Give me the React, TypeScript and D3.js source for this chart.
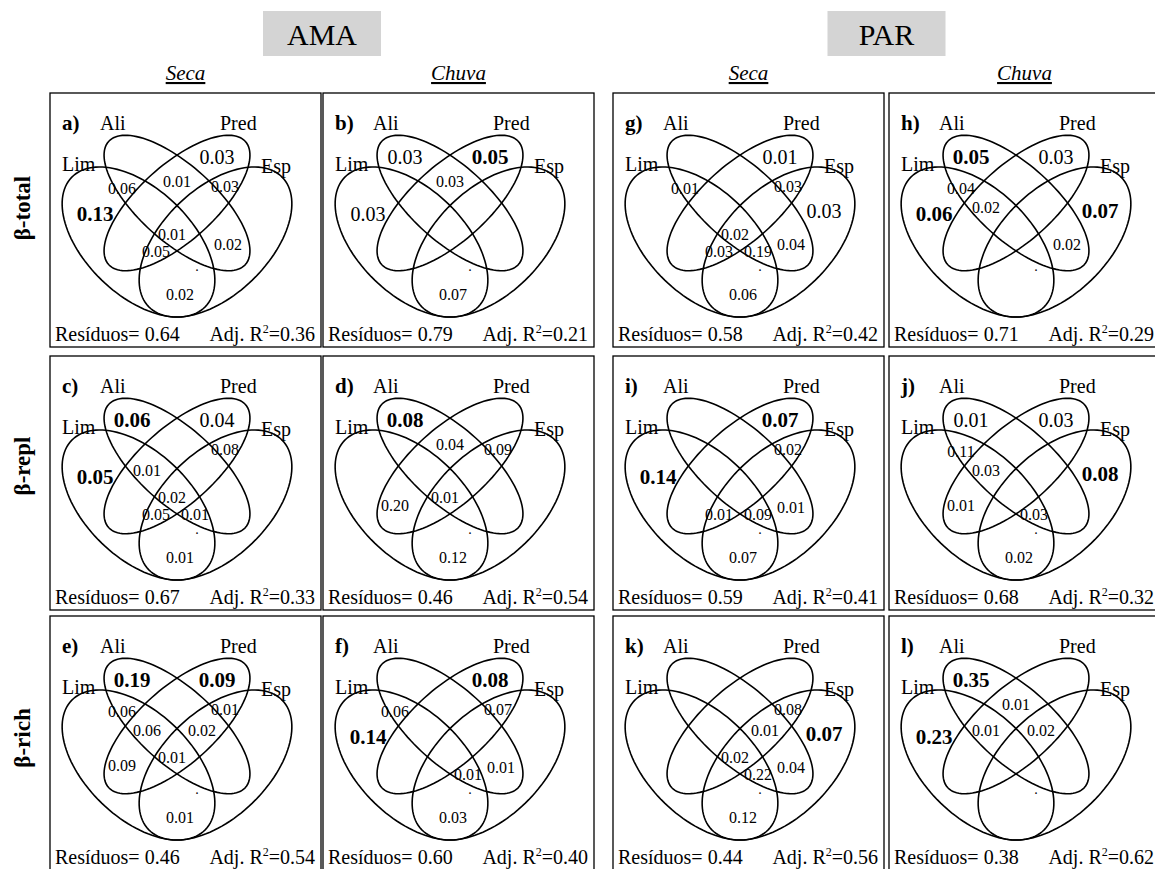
import React from 'react';
import * as d3 from 'd3';

const W = 1155;
const H = 869;
const FONT = "'Liberation Serif', 'Times New Roman', serif";

// ---------- data ----------
const siteLabels = ['AMA', 'PAR'];
const seasonLabels = ['Seca', 'Chuva'];
const rowLabels = ['β-total', 'β-repl', 'β-rich'];
const setLabels = ['Lim', 'Ali', 'Pred', 'Esp'];

// panels in reading order: row by row, columns AMA-Seca, AMA-Chuva, PAR-Seca, PAR-Chuva
const panelIds = ['a', 'b', 'g', 'h', 'c', 'd', 'i', 'j', 'e', 'f', 'k', 'l'];
const residuos = [0.64, 0.79, 0.58, 0.71, 0.67, 0.46, 0.59, 0.68, 0.46, 0.60, 0.44, 0.38];
const adjR2 = [0.36, 0.21, 0.42, 0.29, 0.33, 0.54, 0.41, 0.32, 0.54, 0.40, 0.56, 0.62];

// fractions: [region, value]; region letters L=Lim, A=Ali, P=Pred, E=Esp
type Frac = [string, number];
const fracA: Frac[] = [['L', 0.13], ['LA', 0.06], ['AP', 0.01], ['P', 0.03], ['PE', 0.03], ['LAPE', 0.01], ['LPE', 0.05], ['AE', 0.02], ['LE', 0.02]];
const fracB: Frac[] = [['A', 0.03], ['P', 0.05], ['AP', 0.03], ['L', 0.03], ['LE', 0.07]];
const fracG: Frac[] = [['P', 0.01], ['LA', 0.01], ['PE', 0.03], ['E', 0.03], ['LAPE', 0.02], ['AE', 0.04], ['LPE', 0.03], ['LAE', 0.19], ['LE', 0.06]];
const fracH: Frac[] = [['A', 0.05], ['P', 0.03], ['LA', 0.04], ['L', 0.06], ['LAP', 0.02], ['E', 0.07], ['AE', 0.02]];
const fracC: Frac[] = [['A', 0.06], ['P', 0.04], ['PE', 0.08], ['L', 0.05], ['LAP', 0.01], ['LAPE', 0.02], ['LPE', 0.05], ['LAE', 0.01], ['LE', 0.01]];
const fracD: Frac[] = [['A', 0.08], ['AP', 0.04], ['PE', 0.09], ['LP', 0.20], ['LAPE', 0.01], ['LE', 0.12]];
const fracI: Frac[] = [['P', 0.07], ['PE', 0.02], ['L', 0.14], ['AE', 0.01], ['LPE', 0.01], ['LAE', 0.09], ['LE', 0.07]];
const fracJ: Frac[] = [['A', 0.01], ['P', 0.03], ['LA', 0.11], ['LAP', 0.03], ['E', 0.08], ['LP', 0.01], ['LAE', 0.03], ['LE', 0.02]];
const fracE: Frac[] = [['A', 0.19], ['P', 0.09], ['LA', 0.06], ['PE', 0.01], ['LAP', 0.06], ['APE', 0.02], ['LP', 0.09], ['LAPE', 0.01], ['LE', 0.01]];
const fracF: Frac[] = [['P', 0.08], ['LA', 0.06], ['PE', 0.07], ['L', 0.14], ['LAE', 0.01], ['AE', 0.01], ['LE', 0.03]];
const fracK: Frac[] = [['PE', 0.08], ['APE', 0.01], ['E', 0.07], ['LAPE', 0.02], ['AE', 0.04], ['LAE', 0.22], ['LE', 0.12]];
const fracL: Frac[] = [['A', 0.35], ['AP', 0.01], ['L', 0.23], ['LAP', 0.01], ['APE', 0.02]];
const panelFractions = [fracA, fracB, fracG, fracH, fracC, fracD, fracI, fracJ, fracE, fracF, fracK, fracL];

// significant (bold) fractions per panel
const significant = [
  ['L'], ['P'], [], ['A', 'L', 'E'],
  ['A', 'L'], ['A'], ['P', 'L'], ['E'],
  ['A', 'P'], ['P', 'L'], ['E'], ['A', 'L'],
];

// ---------- layout ----------
const colLeft = [50, 323, 613, 889];
const rowTop = [93, 356, 616];
const rowLabelOffset = [115, 110, 122];
const PW = 271;
const PH = 254;

// Venn geometry in nominal panel units (0..PW, 0..PH)
const ellipseGeom = [
  { cx: 88.5, cy: 149, rx: 93, ry: 53, rot: 44 },   // Lim
  { cx: 127, cy: 110, rx: 92, ry: 38, rot: 42 },    // Ali
  { cx: 127, cy: 110, rx: 92, ry: 38, rot: -42 },   // Pred
  { cx: 165.5, cy: 149, rx: 93, ry: 53, rot: -44 }, // Esp
];
const regionAnchor: Record<string, [number, number]> = {
  L: [45, 121], A: [82, 64], P: [167, 64], E: [211, 118],
  LA: [72, 95], PE: [175, 93], AP: [127, 88],
  LAP: [97, 114], APE: [152, 114], LAPE: [122, 141],
  LP: [72, 149], AE: [178, 151], LPE: [106, 158], LAE: [145, 158], LE: [130, 201],
};
const setLabelPos: [number, number, string][] = [
  [12, 78, 'start'], [50, 37, 'start'], [170, 37, 'start'], [211, 80, 'start'],
];

function ellipsePoints(g: { cx: number; cy: number; rx: number; ry: number; rot: number }) {
  const a = (g.rot * Math.PI) / 180;
  return d3.range(0, 360, 3).map((deg) => {
    const t = (deg * Math.PI) / 180;
    const ex = g.rx * Math.cos(t);
    const ey = g.ry * Math.sin(t);
    return [g.cx + ex * Math.cos(a) - ey * Math.sin(a), g.cy + ex * Math.sin(a) + ey * Math.cos(a)] as [number, number];
  });
}

function Panel({ idx }: { idx: number }) {
  const col = idx % 4;
  const row = Math.floor(idx / 4);
  const x = d3.scaleLinear().domain([0, PW]).range([colLeft[col], colLeft[col] + PW]);
  const y = d3.scaleLinear().domain([0, PH]).range([rowTop[row], rowTop[row] + PH]);
  const line = d3
    .line<[number, number]>()
    .x((d) => x(d[0]))
    .y((d) => y(d[1]))
    .curve(d3.curveLinearClosed);
  const fmt = d3.format('.2f');
  const sig = significant[idx];
  return (
    <g>
      <rect x={x(0)} y={y(0)} width={PW} height={PH} fill="none" stroke="#000" strokeWidth={1.3} />
      {ellipseGeom.map((g, i) => (
        <path key={i} d={line(ellipsePoints(g)) || ''} fill="none" stroke="#000" strokeWidth={1.6} />
      ))}
      <text x={x(12)} y={y(37)} fontSize={21} fontWeight="bold" fontFamily={FONT}>
        {panelIds[idx]})
      </text>
      {setLabels.map((s, i) => (
        <text key={s} x={x(setLabelPos[i][0])} y={y(setLabelPos[i][1])} fontSize={20} fontFamily={FONT} textAnchor={setLabelPos[i][2] as any}>
          {s}
        </text>
      ))}
      {panelFractions[idx].map(([reg, v]) => {
        const [ax, ay] = regionAnchor[reg];
        const bold = sig.includes(reg);
        const single = reg.length === 1;
        return (
          <text
            key={reg}
            x={x(ax)}
            y={y(ay)}
            dy="0.35em"
            textAnchor="middle"
            fontSize={bold ? 21 : single ? 20 : 16}
            fontWeight={bold ? 'bold' : 'normal'}
            fontFamily={FONT}
          >
            {fmt(v)}
          </text>
        );
      })}
      <text x={x(147)} y={y(178)} textAnchor="middle" fontSize={14} fontFamily={FONT}>.</text>
      <text x={x(5)} y={y(248)} fontSize={20} fontFamily={FONT}>
        Resíduos= {fmt(residuos[idx])}
      </text>
      <text x={x(265)} y={y(248)} fontSize={20} fontFamily={FONT} textAnchor="end">
        Adj. R<tspan fontSize={12} dy={-8}>2</tspan>
        <tspan dy={8}>={fmt(adjR2[idx])}</tspan>
      </text>
    </g>
  );
}

export default function App() {
  const siteCenters = [
    (colLeft[0] + colLeft[1] + PW) / 2,
    (colLeft[2] + colLeft[3] + PW) / 2,
  ];
  return (
    <svg width={W} height={H} style={{ position: 'absolute', left: 0, top: 0, background: '#fff' }}>
      <rect x={0} y={0} width={W} height={H} fill="#fff" />
      {siteLabels.map((s, i) => (
        <g key={s}>
          <rect x={siteCenters[i] - 59} y={11} width={118} height={45} fill="#d4d4d4" />
          <text x={siteCenters[i]} y={45} textAnchor="middle" fontSize={30} fontFamily={FONT}>
            {s}
          </text>
        </g>
      ))}
      {colLeft.map((cl, c) => (
        <text
          key={c}
          x={cl + PW / 2}
          y={80}
          textAnchor="middle"
          fontSize={21}
          fontStyle="italic"
          textDecoration="underline"
          fontFamily={FONT}
        >
          {seasonLabels[c % 2]}
        </text>
      ))}
      {rowTop.map((t, r) => (
        <text
          key={r}
          transform={`translate(22, ${t + rowLabelOffset[r]}) rotate(-90)`}
          textAnchor="middle"
          dy="0.35em"
          fontSize={23}
          fontWeight="bold"
          fontFamily={FONT}
        >
          {rowLabels[r]}
        </text>
      ))}
      {panelIds.map((_, i) => (
        <Panel key={i} idx={i} />
      ))}
    </svg>
  );
}
